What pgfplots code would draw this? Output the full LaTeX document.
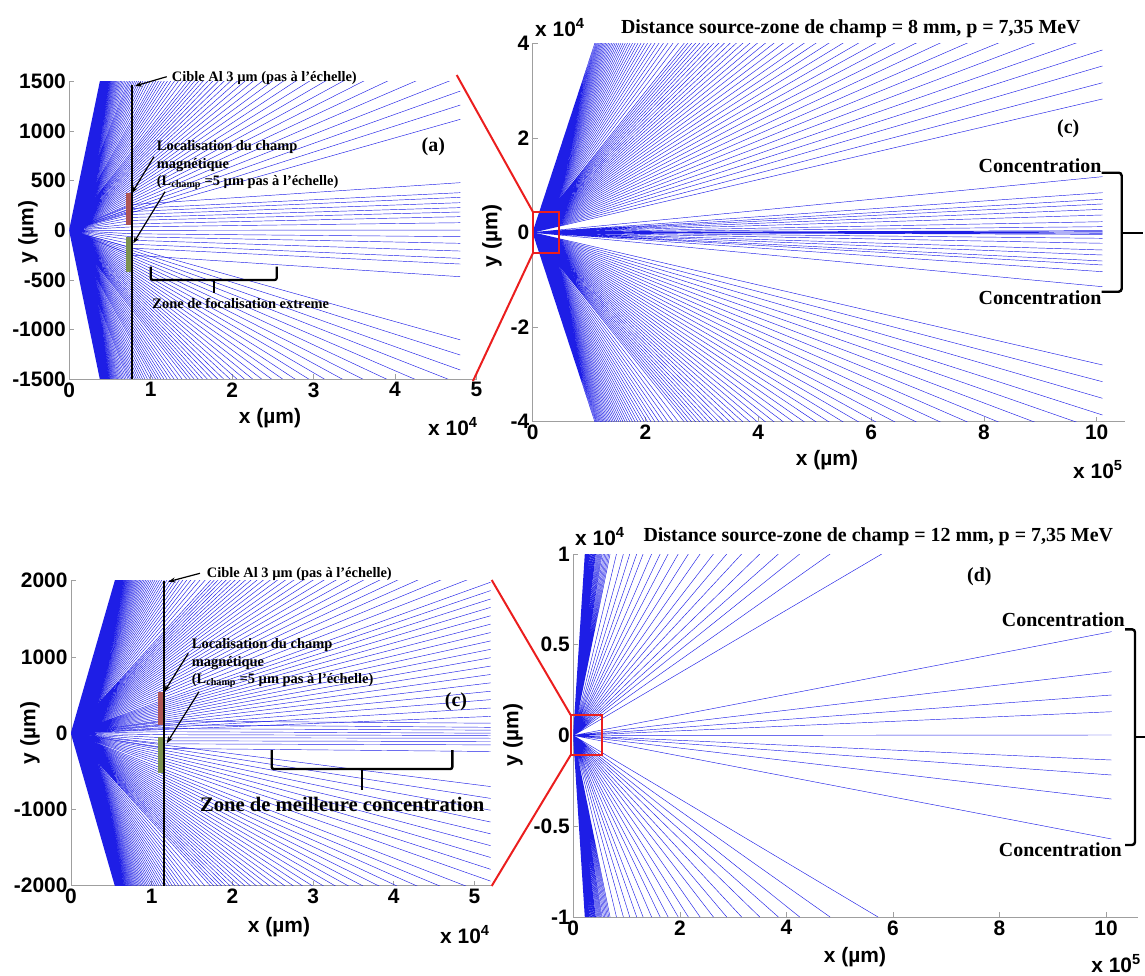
\documentclass[border=0pt]{standalone}
\usepackage{pgfplots}
\pgfplotsset{compat=1.18}
\usepackage{fontspec}
\setmainfont{Liberation Serif}
\newfontfamily\arialf{Liberation Sans}
\usetikzlibrary{arrows.meta}
\definecolor{rayblue}{RGB}{30,30,230}
\definecolor{zonered}{RGB}{175,85,85}
\definecolor{zonegreen}{RGB}{125,145,80}
\definecolor{linkred}{RGB}{235,30,30}
\newcommand\tickfont{\arialf\bfseries\fontsize{21}{21}\selectfont}
\newcommand\annfont{\bfseries\fontsize{14.5}{16}\selectfont}
\newcommand\bigann{\bfseries\fontsize{20}{22}\selectfont}
\pgfplotsset{
 ray/.style={draw=rayblue, line width=0.45bp, line join=round, mark=none},
 panel/.style={scale only axis, anchor=south west,
   axis x line*=bottom, axis y line*=left,
   axis line style={-, draw=gray!75, line width=0.8bp},
   tick style={draw=gray!75, line width=0.6bp},
   major tick length=5bp, tick align=inside,
   xticklabel style={font=\tickfont}, yticklabel style={font=\tickfont},
   scaled ticks=false, clip=true},
}
\begin{document}
\begin{tikzpicture}
\path[use as bounding box] (0,0) rectangle (1145bp,-976bp);
% ---------------- panel (a)
\begin{axis}[panel, at={(69.3bp,-379bp)}, width=407.2bp, height=297.3bp,
  xmin=0, xmax=50000, ymin=-1500, ymax=1500,
  xtick={0,10000,20000,30000,40000,50000}, xticklabels={0,1,2,3,4,5},
  ytick={-1500,-1000,-500,0,500,1000,1500}, yticklabels={-1500,-1000,-500,0,500,1000,1500}]
\addplot[ray] coordinates {(0,0)(48000,1120)(0,0)(48000,1264)(0,0)(48000,1405)(0,0)(48000,1550)(0,0)(48000,1700)(0,0)(48000,1850)(0,0)(48000,2000)(0,0)(48000,2150)(0,0)(48000,2300)(0,0)(48000,2450)(0,0)(48000,2600)(0,0)(48000,2750)(0,0)(48000,2900)(0,0)(48000,3050)(0,0)(48000,3200)(0,0)(48000,3350)(0,0)(48000,3500)(0,0)(48000,3650)(0,0)(48000,3800)(0,0)(48000,3950)(0,0)(48000,4100)(0,0)(48000,4250)(0,0)(48000,4400)(0,0)(48000,4550)(0,0)(48000,4700)(0,0)(48000,4850)(0,0)(48000,5000)(0,0)(48000,5200)(0,0)(48000,5400)(0,0)(48000,5600)(0,0)(48000,5800)(0,0)(48000,6000)(0,0)(48000,6200)(0,0)(48000,6400)(0,0)(48000,6600)(0,0)(48000,6800)(0,0)(48000,7000)(0,0)(48000,7250)(0,0)(48000,7500)(0,0)(48000,7750)(0,0)(48000,8000)(0,0)(48000,8250)(0,0)(48000,8500)(0,0)(48000,8750)(0,0)(48000,9000)(0,0)(48000,9250)(0,0)(48000,9500)(0,0)(48000,9750)(0,0)(48000,10000)(0,0)(48000,10300)(0,0)(48000,10600)(0,0)(48000,10900)(0,0)(48000,11200)(0,0)(48000,11500)(0,0)(48000,11800)(0,0)(48000,12100)(0,0)(48000,12400)(0,0)(48000,12700)(0,0)(48000,13000)(0,0)(48000,13300)(0,0)(48000,13600)(0,0)(48000,13900)(0,0)(48000,14200)(0,0)(48000,14500)(0,0)(48000,14800)(0,0)(48000,15100)(0,0)(48000,15400)(0,0)(48000,15700)(0,0)(48000,16000)(0,0)(48000,16300)(0,0)(48000,16600)(0,0)(48000,16900)(0,0)(48000,17200)(0,0)(48000,17500)(0,0)(48000,17800)(0,0)(48000,18100)(0,0)(48000,18400)(0,0)(48000,18700)(0,0)(48000,19100)};
\addplot[ray] coordinates {(0,0)(48000,-1105)(0,0)(48000,-1258)(0,0)(48000,-1409)(0,0)(48000,-1550)(0,0)(48000,-1700)(0,0)(48000,-1850)(0,0)(48000,-2000)(0,0)(48000,-2150)(0,0)(48000,-2300)(0,0)(48000,-2450)(0,0)(48000,-2600)(0,0)(48000,-2750)(0,0)(48000,-2900)(0,0)(48000,-3050)(0,0)(48000,-3200)(0,0)(48000,-3350)(0,0)(48000,-3500)(0,0)(48000,-3650)(0,0)(48000,-3800)(0,0)(48000,-3950)(0,0)(48000,-4100)(0,0)(48000,-4250)(0,0)(48000,-4400)(0,0)(48000,-4550)(0,0)(48000,-4700)(0,0)(48000,-4850)(0,0)(48000,-5000)(0,0)(48000,-5200)(0,0)(48000,-5400)(0,0)(48000,-5600)(0,0)(48000,-5800)(0,0)(48000,-6000)(0,0)(48000,-6200)(0,0)(48000,-6400)(0,0)(48000,-6600)(0,0)(48000,-6800)(0,0)(48000,-7000)(0,0)(48000,-7250)(0,0)(48000,-7500)(0,0)(48000,-7750)(0,0)(48000,-8000)(0,0)(48000,-8250)(0,0)(48000,-8500)(0,0)(48000,-8750)(0,0)(48000,-9000)(0,0)(48000,-9250)(0,0)(48000,-9500)(0,0)(48000,-9750)(0,0)(48000,-10000)(0,0)(48000,-10300)(0,0)(48000,-10600)(0,0)(48000,-10900)(0,0)(48000,-11200)(0,0)(48000,-11500)(0,0)(48000,-11800)(0,0)(48000,-12100)(0,0)(48000,-12400)(0,0)(48000,-12700)(0,0)(48000,-13000)(0,0)(48000,-13300)(0,0)(48000,-13600)(0,0)(48000,-13900)(0,0)(48000,-14200)(0,0)(48000,-14500)(0,0)(48000,-14800)(0,0)(48000,-15100)(0,0)(48000,-15400)(0,0)(48000,-15700)(0,0)(48000,-16000)(0,0)(48000,-16300)(0,0)(48000,-16600)(0,0)(48000,-16900)(0,0)(48000,-17200)(0,0)(48000,-17500)(0,0)(48000,-17800)(0,0)(48000,-18100)(0,0)(48000,-18400)(0,0)(48000,-18700)(0,0)(48000,-19100)};
\addplot[ray] coordinates {(0,0)(7700,260)(48000,481)(7700,260)(0,0)(7700,220)(48000,380)(7700,220)(0,0)(7700,190)(48000,333)(7700,190)(0,0)(7700,160)(48000,279)(7700,160)(0,0)(7700,130)(48000,229)(7700,130)(0,0)(7700,100)(48000,185)(7700,100)(0,0)(7700,65)(48000,138)(7700,65)(0,0)(7700,35)(48000,77)(7700,35)(0,0)(7700,0)(48000,3)(7700,0)(0,0)(7700,-35)(48000,-64)(7700,-35)(0,0)(7700,-65)(48000,-131)(7700,-65)(0,0)(7700,-100)(48000,-209)(7700,-100)(0,0)(7700,-140)(48000,-283)(7700,-140)(0,0)(7700,-180)(48000,-340)(7700,-180)(0,0)(7700,-250)(48000,-468)};
\fill[zonered] (axis cs:6930,53) rectangle (axis cs:7670,373);
\fill[zonegreen] (axis cs:6930,-418) rectangle (axis cs:7670,-64);
\draw[black, line width=1.8bp] (axis cs:7670,-1500) -- (axis cs:7670,1470);
\end{axis}
% ---------------- panel (c) top right
\begin{axis}[panel, at={(532.7bp,-421.7bp)}, width=592.2bp, height=378.4bp,
  xmin=0, xmax=1050000, ymin=-40000, ymax=40000,
  xtick={0,200000,400000,600000,800000,1000000}, xticklabels={0,2,4,6,8,10},
  ytick={-40000,-20000,0,20000,40000}, yticklabels={-4,-2,0,2,4}]
\addplot[ray] coordinates {(0,0)(1010000,28220)(0,0)(1010000,31650)(0,0)(1010000,35200)(0,0)(1010000,38580)(0,0)(1010000,42000)(0,0)(1010000,45500)(0,0)(1010000,49000)(0,0)(1010000,52500)(0,0)(1010000,56000)(0,0)(1010000,59500)(0,0)(1010000,63000)(0,0)(1010000,66500)(0,0)(1010000,70000)(0,0)(1010000,73500)(0,0)(1010000,77000)(0,0)(1010000,80500)(0,0)(1010000,84000)(0,0)(1010000,87500)(0,0)(1010000,91000)(0,0)(1010000,94500)(0,0)(1010000,98000)(0,0)(1010000,101500)(0,0)(1010000,105000)(0,0)(1010000,108500)(0,0)(1010000,112000)(0,0)(1010000,115500)(0,0)(1010000,119000)(0,0)(1010000,122500)(0,0)(1010000,126000)(0,0)(1010000,129500)(0,0)(1010000,133000)(0,0)(1010000,136500)(0,0)(1010000,140000)(0,0)(1010000,143500)(0,0)(1010000,147000)(0,0)(1010000,150500)(0,0)(1010000,156500)(0,0)(1010000,162500)(0,0)(1010000,168500)(0,0)(1010000,174500)(0,0)(1010000,180500)(0,0)(1010000,186500)(0,0)(1010000,192500)(0,0)(1010000,198500)(0,0)(1010000,204500)(0,0)(1010000,210500)(0,0)(1010000,216500)(0,0)(1010000,222500)(0,0)(1010000,228500)(0,0)(1010000,234500)(0,0)(1010000,240500)(0,0)(1010000,246500)(0,0)(1010000,252500)(0,0)(1010000,258500)(0,0)(1010000,264500)(0,0)(1010000,270500)(0,0)(1010000,276500)(0,0)(1010000,282500)(0,0)(1010000,288500)(0,0)(1010000,294500)(0,0)(1010000,300500)(0,0)(1010000,306500)(0,0)(1010000,312500)(0,0)(1010000,318500)(0,0)(1010000,324500)(0,0)(1010000,330500)(0,0)(1010000,336500)(0,0)(1010000,342500)(0,0)(1010000,348500)(0,0)(1010000,354500)(0,0)(1010000,360500)(0,0)(1010000,367000)};
\addplot[ray] coordinates {(0,0)(1010000,-28000)(0,0)(1010000,-31540)(0,0)(1010000,-35050)(0,0)(1010000,-38580)(0,0)(1010000,-42000)(0,0)(1010000,-45500)(0,0)(1010000,-49000)(0,0)(1010000,-52500)(0,0)(1010000,-56000)(0,0)(1010000,-59500)(0,0)(1010000,-63000)(0,0)(1010000,-66500)(0,0)(1010000,-70000)(0,0)(1010000,-73500)(0,0)(1010000,-77000)(0,0)(1010000,-80500)(0,0)(1010000,-84000)(0,0)(1010000,-87500)(0,0)(1010000,-91000)(0,0)(1010000,-94500)(0,0)(1010000,-98000)(0,0)(1010000,-101500)(0,0)(1010000,-105000)(0,0)(1010000,-108500)(0,0)(1010000,-112000)(0,0)(1010000,-115500)(0,0)(1010000,-119000)(0,0)(1010000,-122500)(0,0)(1010000,-126000)(0,0)(1010000,-129500)(0,0)(1010000,-133000)(0,0)(1010000,-136500)(0,0)(1010000,-140000)(0,0)(1010000,-143500)(0,0)(1010000,-147000)(0,0)(1010000,-150500)(0,0)(1010000,-156500)(0,0)(1010000,-162500)(0,0)(1010000,-168500)(0,0)(1010000,-174500)(0,0)(1010000,-180500)(0,0)(1010000,-186500)(0,0)(1010000,-192500)(0,0)(1010000,-198500)(0,0)(1010000,-204500)(0,0)(1010000,-210500)(0,0)(1010000,-216500)(0,0)(1010000,-222500)(0,0)(1010000,-228500)(0,0)(1010000,-234500)(0,0)(1010000,-240500)(0,0)(1010000,-246500)(0,0)(1010000,-252500)(0,0)(1010000,-258500)(0,0)(1010000,-264500)(0,0)(1010000,-270500)(0,0)(1010000,-276500)(0,0)(1010000,-282500)(0,0)(1010000,-288500)(0,0)(1010000,-294500)(0,0)(1010000,-300500)(0,0)(1010000,-306500)(0,0)(1010000,-312500)(0,0)(1010000,-318500)(0,0)(1010000,-324500)(0,0)(1010000,-330500)(0,0)(1010000,-336500)(0,0)(1010000,-342500)(0,0)(1010000,-348500)(0,0)(1010000,-354500)(0,0)(1010000,-360500)(0,0)(1010000,-367000)};
\addplot[ray] coordinates {(0,0)(1010000,11800)(0,0)(1010000,8410)(0,0)(1010000,7020)(0,0)(1010000,6030)(0,0)(1010000,4900)(0,0)(1010000,3700)(0,0)(1010000,2280)(0,0)(1010000,1230)(0,0)(1010000,400)(0,0)(1010000,170)(0,0)(1010000,0)(0,0)(1010000,-170)(0,0)(1010000,-400)(0,0)(1010000,-1230)(0,0)(1010000,-2280)(0,0)(1010000,-3700)(0,0)(1010000,-4760)(0,0)(1010000,-6030)(0,0)(1010000,-6870)(0,0)(1010000,-8290)(0,0)(1010000,-11460)};
\end{axis}
% ---------------- bottom-left panel
\begin{axis}[panel, at={(71bp,-885.7bp)}, width=419.6bp, height=305bp,
  xmin=0, xmax=52000, ymin=-2000, ymax=2000,
  xtick={0,10000,20000,30000,40000,50000}, xticklabels={0,1,2,3,4,5},
  ytick={-2000,-1000,0,1000,2000}, yticklabels={-2000,-1000,0,1000,2000}]
\addplot[ray] coordinates {(0,0)(52000,220)(0,0)(52000,330)(0,0)(52000,440)(0,0)(52000,550)(0,0)(52000,660)(0,0)(52000,770)(0,0)(52000,880)(0,0)(52000,990)(0,0)(52000,1100)(0,0)(52000,1210)(0,0)(52000,1320)(0,0)(52000,1430)(0,0)(52000,1540)(0,0)(52000,1650)(0,0)(52000,1760)(0,0)(52000,1870)(0,0)(52000,1980)(0,0)(52000,2130)(0,0)(52000,2280)(0,0)(52000,2430)(0,0)(52000,2580)(0,0)(52000,2730)(0,0)(52000,2880)(0,0)(52000,3030)(0,0)(52000,3180)(0,0)(52000,3330)(0,0)(52000,3480)(0,0)(52000,3630)(0,0)(52000,3780)(0,0)(52000,3930)(0,0)(52000,4080)(0,0)(52000,4230)(0,0)(52000,4380)(0,0)(52000,4530)(0,0)(52000,4680)(0,0)(52000,4830)(0,0)(52000,4980)(0,0)(52000,5130)(0,0)(52000,5280)(0,0)(52000,5430)(0,0)(52000,5580)(0,0)(52000,5730)(0,0)(52000,5880)(0,0)(52000,6030)(0,0)(52000,6280)(0,0)(52000,6530)(0,0)(52000,6780)(0,0)(52000,7030)(0,0)(52000,7280)(0,0)(52000,7530)(0,0)(52000,7780)(0,0)(52000,8030)(0,0)(52000,8280)(0,0)(52000,8530)(0,0)(52000,8780)(0,0)(52000,9030)(0,0)(52000,9280)(0,0)(52000,9530)(0,0)(52000,9780)(0,0)(52000,10030)(0,0)(52000,10280)(0,0)(52000,10530)(0,0)(52000,10780)(0,0)(52000,11030)(0,0)(52000,11280)(0,0)(52000,11530)(0,0)(52000,11780)(0,0)(52000,12030)(0,0)(52000,12280)(0,0)(52000,12530)(0,0)(52000,12780)(0,0)(52000,13030)(0,0)(52000,13280)(0,0)(52000,13530)(0,0)(52000,13780)(0,0)(52000,14030)(0,0)(52000,14280)(0,0)(52000,14530)(0,0)(52000,14780)(0,0)(52000,15030)(0,0)(52000,15280)(0,0)(52000,15530)(0,0)(52000,15780)(0,0)(52000,16030)(0,0)(52000,16280)(0,0)(52000,16530)(0,0)(52000,16780)(0,0)(52000,17030)(0,0)(52000,17280)(0,0)(52000,17530)(0,0)(52000,17780)(0,0)(52000,18030)(0,0)(52000,18280)(0,0)(52000,18530)(0,0)(52000,18780)(0,0)(52000,19080)};
\addplot[ray] coordinates {(0,0)(52000,-700)(0,0)(52000,-855)(0,0)(52000,-1010)(0,0)(52000,-1165)(0,0)(52000,-1320)(0,0)(52000,-1475)(0,0)(52000,-1630)(0,0)(52000,-1785)(0,0)(52000,-1940)(0,0)(52000,-2130)(0,0)(52000,-2280)(0,0)(52000,-2430)(0,0)(52000,-2580)(0,0)(52000,-2730)(0,0)(52000,-2880)(0,0)(52000,-3030)(0,0)(52000,-3180)(0,0)(52000,-3330)(0,0)(52000,-3480)(0,0)(52000,-3630)(0,0)(52000,-3780)(0,0)(52000,-3930)(0,0)(52000,-4080)(0,0)(52000,-4230)(0,0)(52000,-4380)(0,0)(52000,-4530)(0,0)(52000,-4680)(0,0)(52000,-4830)(0,0)(52000,-4980)(0,0)(52000,-5130)(0,0)(52000,-5280)(0,0)(52000,-5430)(0,0)(52000,-5580)(0,0)(52000,-5730)(0,0)(52000,-5880)(0,0)(52000,-6030)(0,0)(52000,-6280)(0,0)(52000,-6530)(0,0)(52000,-6780)(0,0)(52000,-7030)(0,0)(52000,-7280)(0,0)(52000,-7530)(0,0)(52000,-7780)(0,0)(52000,-8030)(0,0)(52000,-8280)(0,0)(52000,-8530)(0,0)(52000,-8780)(0,0)(52000,-9030)(0,0)(52000,-9280)(0,0)(52000,-9530)(0,0)(52000,-9780)(0,0)(52000,-10030)(0,0)(52000,-10280)(0,0)(52000,-10530)(0,0)(52000,-10780)(0,0)(52000,-11030)(0,0)(52000,-11280)(0,0)(52000,-11530)(0,0)(52000,-11780)(0,0)(52000,-12030)(0,0)(52000,-12280)(0,0)(52000,-12530)(0,0)(52000,-12780)(0,0)(52000,-13030)(0,0)(52000,-13280)(0,0)(52000,-13530)(0,0)(52000,-13780)(0,0)(52000,-14030)(0,0)(52000,-14280)(0,0)(52000,-14530)(0,0)(52000,-14780)(0,0)(52000,-15030)(0,0)(52000,-15280)(0,0)(52000,-15530)(0,0)(52000,-15780)(0,0)(52000,-16030)(0,0)(52000,-16280)(0,0)(52000,-16530)(0,0)(52000,-16780)(0,0)(52000,-17030)(0,0)(52000,-17280)(0,0)(52000,-17530)(0,0)(52000,-17780)(0,0)(52000,-18030)(0,0)(52000,-18280)(0,0)(52000,-18530)(0,0)(52000,-18780)(0,0)(52000,-19080)};
\addplot[ray] coordinates {(0,0)(11600,160)(52000,131)(11600,160)(0,0)(11600,110)(52000,77)(11600,110)(0,0)(11600,60)(52000,40)(11600,60)(0,0)(11600,20)(52000,0)(11600,20)(0,0)(11600,-20)(52000,-30)(11600,-20)(0,0)(11600,-60)(52000,-66)(11600,-60)(0,0)(11600,-100)(52000,-109)(11600,-100)(0,0)(11600,-140)(52000,-153)(11600,-140)(0,0)(11600,-200)(52000,-240)};
\fill[zonered] (axis cs:10820,109) rectangle (axis cs:11650,545);
\fill[zonegreen] (axis cs:10820,-517) rectangle (axis cs:11650,-52);
\draw[black, line width=1.8bp] (axis cs:11560,-2000) -- (axis cs:11560,2000);
\end{axis}
% ---------------- panel (d)
\begin{axis}[panel, at={(573.3bp,-917bp)}, width=564.7bp, height=363bp,
  xmin=0, xmax=1060000, ymin=-10000, ymax=10000,
  xtick={0,200000,400000,600000,800000,1000000}, xticklabels={0,2,4,6,8,10},
  ytick={-10000,-5000,0,5000,10000}, yticklabels={-1,-0.5,0,0.5,1}]
\addplot[ray] coordinates {(0,0)(22000,10000)(0,0)(23000,10000)(0,0)(24000,10000)(0,0)(25000,10000)(0,0)(26000,10000)(0,0)(27000,10000)(0,0)(28000,10000)(0,0)(29000,10000)(0,0)(30000,10000)(0,0)(31500,10000)(0,0)(33000,10000)(0,0)(34500,10000)(0,0)(36000,10000)(0,0)(37500,10000)(0,0)(39000,10000)(0,0)(40500,10000)(0,0)(42000,10000)(0,0)(44000,10000)(0,0)(46000,10000)(0,0)(48000,10000)(0,0)(50000,10000)(0,0)(52000,10000)(0,0)(54000,10000)(0,0)(56500,10000)(0,0)(59000,10000)(0,0)(61500,10000)(0,0)(64000,10000)(0,0)(66500,10000)(0,0)(69000,10000)(0,0)(81000,10000)(0,0)(94000,10000)(0,0)(106000,10000)(0,0)(119000,10000)(0,0)(131000,10000)(0,0)(147000,10000)(0,0)(163000,10000)(0,0)(178000,10000)(0,0)(197000,10000)(0,0)(216000,10000)(0,0)(238000,10000)(0,0)(263000,10000)(0,0)(288000,10000)(0,0)(316000,10000)(0,0)(350000,10000)(0,0)(385000,10000)(0,0)(425000,10000)(0,0)(482000,10000)(0,0)(579000,10000)};
\addplot[ray] coordinates {(0,0)(22000,-10000)(0,0)(23000,-10000)(0,0)(24000,-10000)(0,0)(25000,-10000)(0,0)(26000,-10000)(0,0)(27000,-10000)(0,0)(28000,-10000)(0,0)(29000,-10000)(0,0)(30000,-10000)(0,0)(31500,-10000)(0,0)(33000,-10000)(0,0)(34500,-10000)(0,0)(36000,-10000)(0,0)(37500,-10000)(0,0)(39000,-10000)(0,0)(40500,-10000)(0,0)(42000,-10000)(0,0)(44000,-10000)(0,0)(46000,-10000)(0,0)(48000,-10000)(0,0)(50000,-10000)(0,0)(52000,-10000)(0,0)(54000,-10000)(0,0)(56500,-10000)(0,0)(59000,-10000)(0,0)(61500,-10000)(0,0)(64000,-10000)(0,0)(66500,-10000)(0,0)(69000,-10000)(0,0)(81000,-10000)(0,0)(94000,-10000)(0,0)(106000,-10000)(0,0)(119000,-10000)(0,0)(131000,-10000)(0,0)(147000,-10000)(0,0)(163000,-10000)(0,0)(178000,-10000)(0,0)(197000,-10000)(0,0)(216000,-10000)(0,0)(238000,-10000)(0,0)(263000,-10000)(0,0)(288000,-10000)(0,0)(316000,-10000)(0,0)(350000,-10000)(0,0)(385000,-10000)(0,0)(425000,-10000)(0,0)(482000,-10000)(0,0)(572000,-10000)};
\addplot[ray] coordinates {(0,0)(1010000,5720)(0,0)(1010000,3515)(0,0)(1010000,2231)(0,0)(1010000,1311)(0,0)(1010000,28)(0,0)(1010000,-1350)(0,0)(1010000,-2176)(0,0)(1010000,-3500)(0,0)(1010000,-5700)};
\end{axis}
% ---------------- annotations
\begin{scope}[x=1bp,y=-1bp]
% zoom links
\draw[linkred, line width=2bp] (456.7,75) -- (533,212);
\draw[linkred, line width=2bp] (473,381) -- (533,253);
\draw[linkred, line width=2bp] (533,212) rectangle (559.3,253);
\draw[linkred, line width=2bp] (491.7,580) -- (570.7,715);
\draw[linkred, line width=2bp] (491.7,886) -- (570.7,755);
\draw[linkred, line width=2bp] (570.7,715) rectangle (601.7,755);
% axis labels
\node[font=\tickfont] at (270,418) {x (µm)};
\node[font=\tickfont, rotate=90] at (28,232) {y (µm)};
\node[font=\tickfont, anchor=base west, inner sep=0] at (428,435) {x 10\textsuperscript{4}};
\node[font=\tickfont] at (279,927) {x (µm)};
\node[font=\tickfont, rotate=90] at (30,733) {y (µm)};
\node[font=\tickfont, anchor=base west, inner sep=0] at (440,943) {x 10\textsuperscript{4}};
\node[font=\tickfont] at (827,460) {x (µm)};
\node[font=\tickfont, rotate=90] at (492,236) {y (µm)};
\node[font=\tickfont, anchor=base west, inner sep=0] at (535,36) {x 10\textsuperscript{4}};
\node[font=\tickfont, anchor=base west, inner sep=0] at (1073,478) {x 10\textsuperscript{5}};
\node[font=\tickfont] at (855,957) {x (µm)};
\node[font=\tickfont, rotate=90] at (513,735) {y (µm)};
\node[font=\tickfont, anchor=base west, inner sep=0] at (575,545) {x 10\textsuperscript{4}};
\node[font=\tickfont, anchor=base east, inner sep=0] at (1141,972) {x 10\textsuperscript{5}};
% titles
\node[font=\bigann, anchor=base, inner sep=0] at (850.8,33) {Distance source-zone de champ = 8 mm, p = 7,35 MeV};
\node[font=\bigann, anchor=base, inner sep=0] at (878.3,541) {Distance source-zone de champ = 12 mm, p = 7,35 MeV};
% panel (a) annotations
\node[font=\annfont, anchor=west, inner sep=0] at (171.7,78.3) {Cible Al 3 µm (pas à l’échelle)};
\node[font=\annfont, anchor=west, inner sep=0] at (156.7,147.3) {Localisation du champ};
\node[font=\annfont, anchor=west, inner sep=0] at (156.7,165) {magnétique};
\node[font=\annfont, anchor=west, inner sep=0] at (156.7,182.7) {(L\textsubscript{champ} =5 µm pas à l’échelle)};
\node[font=\bigann] at (433.3,146.7) {(a)};
\node[font=\annfont] at (240.8,303.3) {Zone de focalisation extreme};
\draw[-{Stealth[length=7bp,width=5bp]}, line width=1.2bp] (166.7,76.7) -- (135,86);
\draw[-{Stealth[length=7bp,width=5bp]}, line width=1.2bp] (154,156.7) -- (131.7,193.3);
\draw[-{Stealth[length=7bp,width=5bp]}, line width=1.2bp] (165,191.7) -- (133.3,243.3);
\draw[line width=2.2bp, rounded corners=2bp] (150.7,266.7) -- (150.7,280) -- (276.7,280) -- (276.7,266.7);
\draw[line width=2.2bp] (213.7,280) -- (213.7,293);
% bottom-left annotations
\node[font=\annfont, anchor=west, inner sep=0] at (206.7,574) {Cible Al 3 µm (pas à l’échelle)};
\node[font=\annfont, anchor=west, inner sep=0] at (191.7,645) {Localisation du champ};
\node[font=\annfont, anchor=west, inner sep=0] at (191.7,662.7) {magnétique};
\node[font=\annfont, anchor=west, inner sep=0] at (191.7,680.7) {(L\textsubscript{champ} =5 µm pas à l’échelle)};
\node[font=\bigann] at (456,701.7) {(c)};
\node[font=\bfseries\fontsize{20.7}{22}\selectfont] at (342.2,804.3) {Zone de meilleure concentration};
\draw[-{Stealth[length=7bp,width=5bp]}, line width=1.2bp] (200,573.3) -- (168.3,581.7);
\draw[-{Stealth[length=7bp,width=5bp]}, line width=1.2bp] (188.3,653.3) -- (164.3,691.7);
\draw[-{Stealth[length=7bp,width=5bp]}, line width=1.2bp] (199,691.7) -- (166.7,743.3);
\draw[line width=2.4bp, rounded corners=2bp] (271.7,750) -- (271.7,769) -- (452.3,769) -- (452.3,750);
\draw[line width=2.4bp] (361.7,769) -- (361.7,790);
% panel (c) annotations
\node[font=\bigann] at (1068.3,128.3) {(c)};
\node[font=\bigann, anchor=east, inner sep=0] at (1101.7,165.7) {Concentration};
\node[font=\bigann, anchor=east, inner sep=0] at (1101.7,297.7) {Concentration};
\draw[line width=2.4bp, rounded corners=3bp] (1101.7,172.7) -- (1121.7,172.7) -- (1121.7,291.7) -- (1101.7,291.7);
\draw[line width=2.4bp] (1121.7,233) -- (1143,233);
% panel (d) annotations
\node[font=\bigann] at (979.3,576.7) {(d)};
\node[font=\bigann, anchor=east, inner sep=0] at (1125,619.3) {Concentration};
\node[font=\bigann, anchor=east, inner sep=0] at (1122,850) {Concentration};
\draw[line width=2.4bp, rounded corners=3bp] (1125,629.3) -- (1135,629.3) -- (1135,845) -- (1125,845);
\draw[line width=2.4bp] (1135,737) -- (1145,737);
\end{scope}
\end{tikzpicture}
\end{document}
